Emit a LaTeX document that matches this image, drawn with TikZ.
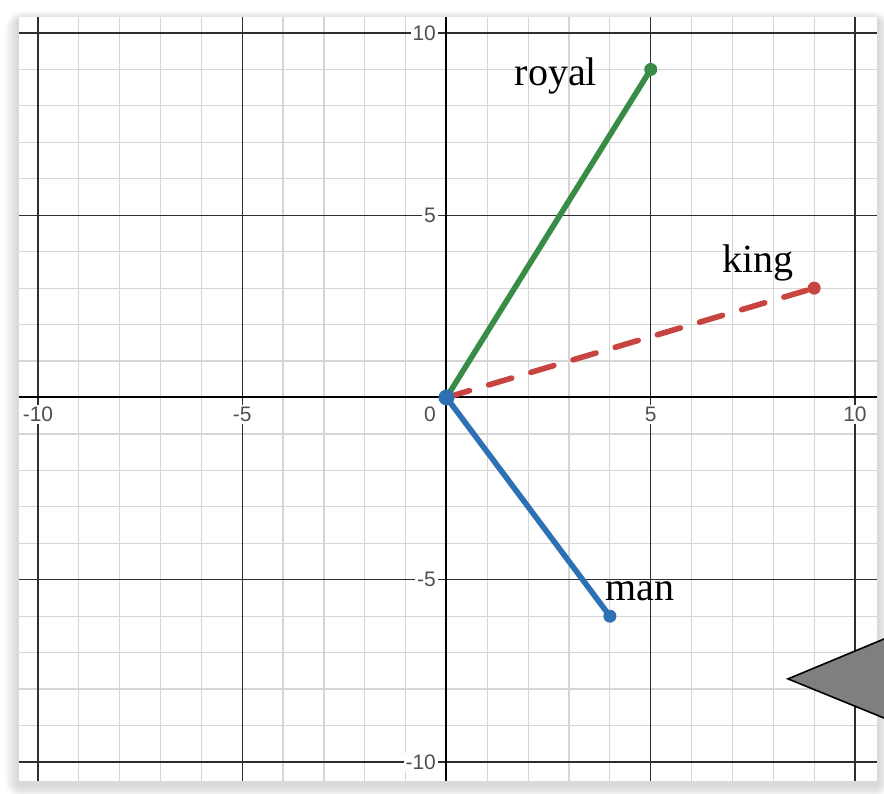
\documentclass[tikz,border=0pt]{standalone}
\usepackage{fontspec}
\setmainfont{Liberation Serif}
\newfontfamily\ticksfont{Liberation Sans}
\usetikzlibrary{positioning}
\definecolor{royalGreen}{HTML}{388C46}
\definecolor{kingRed}{HTML}{C74440}
\definecolor{manBlue}{HTML}{2D70B3}
\definecolor{minorGrid}{HTML}{D6D6D6}
\definecolor{majorGrid}{HTML}{2E2E2E}
\definecolor{tickText}{HTML}{505050}
\definecolor{pointerFill}{HTML}{7F7F7F}

\begin{document}
\begin{tikzpicture}[
    x=20.425pt, y=18.225pt,
    minor/.style={draw=minorGrid, line width=0.6pt},
    major/.style={draw=majorGrid, line width=0.55pt},
    axis/.style={draw=black, line width=1pt},
    tick/.style={
        font=\ticksfont\fontsize{10.5}{12}\selectfont,
        text=tickText, fill=white, inner sep=1pt
    },
    vec/.style={line width=2.8pt, line cap=round},
    tipdot/.style={circle, inner sep=0pt, minimum size=6.5pt},
    word/.style={font=\fontsize{20}{24}\selectfont, anchor=base, inner sep=0pt}
]
    \useasboundingbox (-10.93,-10.878) rectangle (10.71,10.905);

    % panel with soft shadow
    \foreach \i in {1,...,10}
        \fill[black, opacity=0.014, rounded corners=\i pt]
            ([xshift=-\i*0.7pt, yshift=-\i*0.7pt-2pt]-10.47,-10.52)
            rectangle ([xshift=\i*0.7pt, yshift=\i*0.5pt-2pt]10.54,10.44);
    \fill[white] (-10.47,-10.52) rectangle (10.54,10.44);

    % grid
    \foreach \k in {-10,...,10} {
        \draw[minor] (\k,-10.52) -- (\k,10.44);
        \draw[minor] (-10.47,\k) -- (10.54,\k);
    }
    \foreach \k in {-10,-5,5,10} {
        \draw[major] (\k,-10.52) -- (\k,10.44);
        \draw[major] (-10.47,\k) -- (10.54,\k);
    }
    \draw[axis] (-10.47,0) -- (10.54,0);
    \draw[axis] (0,-10.52) -- (0,10.44);

    % tick labels
    \foreach \k in {-10,-5,5,10} {
        \node[tick, anchor=north] (xt\k) at (\k,-0.2) {\k};
        \node[tick, anchor=east] (yt\k) at (-0.2,\k) {\k};
    }
    \node[tick, anchor=north east] (xt0) at (-0.2,-0.2) {0};

    % vectors
    \coordinate (O) at (0,0);
    \coordinate (royal) at (5,9);
    \coordinate (king) at (9,3);
    \coordinate (man) at (4,-6);

    \draw[vec, kingRed, dash pattern=on 12pt off 10pt] (O) -- (king);
    \draw[vec, royalGreen] (O) -- (royal);
    \draw[vec, manBlue] (O) -- (man);

    \node[tipdot, fill=kingRed] (kingtip) at (king) {};
    \node[tipdot, fill=royalGreen] (royaltip) at (royal) {};
    \node[tipdot, fill=manBlue] (mantip) at (man) {};
    \node[tipdot, fill=manBlue, minimum size=8pt] (origin) at (O) {};

    \node[word] (royallabel) at (2.68,8.57) {royal};
    \node[word] (kinglabel) at (7.63,3.44) {king};
    \node[word] (manlabel) at (4.74,-5.56) {man};

    % pointer
    \filldraw[fill=pointerFill, draw=black, line width=0.8pt]
        (8.36,-7.72) -- (11.84,-6.10) -- (11.84,-9.31) -- cycle;
\end{tikzpicture}
\end{document}
